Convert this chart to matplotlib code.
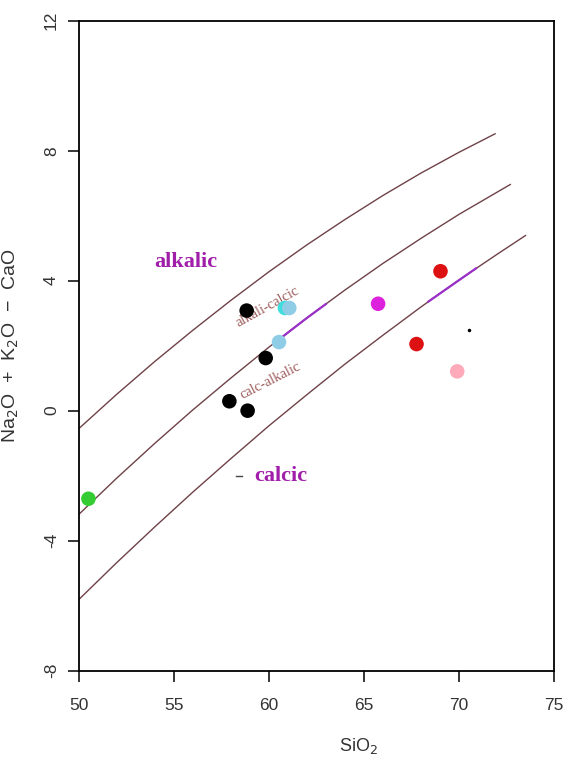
import matplotlib.pyplot as plt
import numpy as np

plt.rcParams['axes.unicode_minus'] = False
plt.rcParams['font.family'] = ['Liberation Sans', 'DejaVu Sans']

# boundary curves (SiO2, Na2O+K2O-CaO)
alk_x = [50, 52, 54, 56, 58, 60, 62, 64, 66, 68, 70, 71.9]
alk_y = [-0.56, 0.50, 1.51, 2.47, 3.39, 4.27, 5.10, 5.88, 6.62, 7.31, 7.95, 8.52]

calcalk_x = [50, 52, 54, 56, 58, 60, 62, 64, 66, 68, 70, 72.7]
calcalk_y = [-3.20, -2.08, -1.01, 0.02, 1.00, 1.95, 2.85, 3.71, 4.53, 5.30, 6.04, 6.96]

calcic_x = [50, 52, 54, 56, 58, 60, 62, 64, 66, 68, 70, 72, 73.5]
calcic_y = [-5.82, -4.68, -3.58, -2.51, -1.48, -0.47, 0.49, 1.43, 2.32, 3.19, 4.02, 4.81, 5.39]

# purple overlay pieces
seg1_x = [60.3, 61.0, 62.0, 63.0]
seg1_y = [2.08, 2.40, 2.85, 3.28]
seg2_x = [68.4, 69.5, 70.9]
seg2_y = [3.36, 3.81, 4.38]

# samples
sio2 = [58.84, 60.85, 61.08, 60.54, 59.84, 57.93, 58.89, 65.75, 69.03, 67.77, 69.91, 50.52]
mali = [3.08, 3.16, 3.16, 2.11, 1.62, 0.29, 0.00, 3.29, 4.29, 2.05, 1.21, -2.71]
colors = ['black', '#3fdede', '#8fcde6', '#8fcde6', 'black', 'black', 'black',
          '#dd22dd', '#dd1111', '#dd1111', '#ffaabb', '#33cc33']

fig = plt.figure(figsize=(5.65, 7.61), dpi=100)
ax = fig.add_axes([0.139, 0.1187, 0.8416, 0.8541])

line_col = '#6e4248'
ax.plot(alk_x, alk_y, color=line_col, lw=1.0)
ax.plot(calcalk_x, calcalk_y, color=line_col, lw=1.0)
ax.plot(calcic_x, calcic_y, color=line_col, lw=1.0)
ax.plot(seg1_x, seg1_y, color='#9a30c8', lw=1.6)
ax.plot(seg2_x, seg2_y, color='#9a30c8', lw=1.6)

ax.scatter(sio2, mali, c=colors, s=110, edgecolors='none', zorder=3)
ax.plot([70.53], [2.47], 'o', color='black', ms=1.5)
ax.plot([58.3, 58.6], [-2.02, -2.02], color='#444444', lw=1)

serif = 'Liberation Serif'
ax.text(55.65, 4.59, 'alkalic', color='#a01eaa', fontsize=16, fontweight='bold',
        family=serif, ha='center', va='center')
ax.text(60.61, -2.02, 'calcic', color='#a01eaa', fontsize=16, fontweight='bold',
        family=serif, ha='center', va='center')
ax.text(59.93, 3.18, 'alkali-calcic', color='#9c5a5a', fontsize=10.5,
        family=serif, ha='center', va='center', rotation=29, zorder=2)
ax.text(60.11, 0.93, 'calc-alkalic', color='#9c5a5a', fontsize=10.5,
        family=serif, ha='center', va='center', rotation=27, zorder=2)

ax.set_xlim(50, 75)
ax.set_ylim(-8, 12)
ax.set_xticks([50, 55, 60, 65, 70, 75])
ax.set_yticks([-8, -4, 0, 4, 8, 12])
ax.tick_params(direction='out', length=8, width=1.1, labelsize=12.5, colors='black',
               labelcolor='#333333')
ax.tick_params(axis='x', pad=12)
ax.tick_params(axis='y', pad=6)
for lab in ax.get_yticklabels():
    lab.set_rotation(90)
    lab.set_va('center')
for s in ax.spines.values():
    s.set_linewidth(1.3)

ax.set_xlabel('SiO$_2$', fontsize=13, color='#333333')
ax.xaxis.set_label_coords(0.588, -0.1)
ax.set_ylabel('Na$_2$O  +  K$_2$O  \u2212  CaO', fontsize=14, color='#333333')
ax.yaxis.set_label_coords(-0.121, 0.5)

fig.savefig('out.png', dpi=100)
